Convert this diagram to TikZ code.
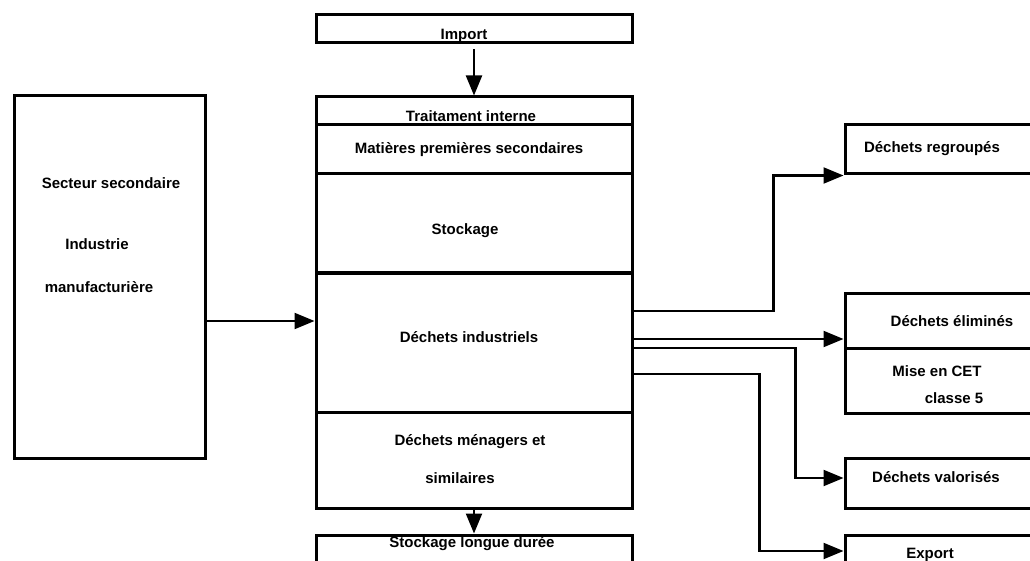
\documentclass[tikz,border=0pt]{standalone}
\usepackage{fontspec}
\setmainfont{Liberation Sans}
\usetikzlibrary{arrows.meta}

\tikzset{
	blk/.style 2 args={draw, line width=3pt, minimum width=#1, minimum height=#2, inner sep=0pt},
	txt/.style={font=\fontsize{15}{17}\selectfont\bfseries, inner sep=0pt},
	arr/.style={line width=2.2pt, -{Triangle[length=20pt,width=16pt]}}
}

\begin{document}
\begin{tikzpicture}[x=1pt,y=-1pt]
	\useasboundingbox (0,0) rectangle (1030,561);
	\clip (0,0) rectangle (1030,561);
	% boxes
	\node[blk={316pt}{28pt}] (imp) at (474,29) {};
	\node[blk={316pt}{28pt}] (trait) at (474,111) {};
	\node[blk={316pt}{49pt}] (mps) at (474,149.5) {};
	\node[blk={316pt}{99pt}] (stock) at (474,223.5) {};
	\node[blk={316pt}{139pt}] (dind) at (474,342.5) {};
	\node[blk={316pt}{96pt}] (dmen) at (474,460) {};
	\node[blk={316pt}{40pt}] (sld) at (474,555) {};
	\node[blk={191pt}{362pt}] (sect) at (109.5,277) {};
	\node[blk={200pt}{49pt}] (dreg) at (945,149.5) {};
	\node[blk={200pt}{55pt}] (delim) at (945,320.5) {};
	\node[blk={200pt}{65pt}] (dcet) at (945,380.5) {};
	\node[blk={200pt}{50pt}] (dval) at (945,483) {};
	\node[blk={200pt}{40pt}] (dexp) at (945,555) {};
	% texts
	\node[txt] (t-imp) at (464,36) {Import};
	\node[txt] (t-trait) at (471,116) {Traitament interne};
	\node[txt] (t-mps) at (469,150) {Matières premières secondaires};
	\node[txt] (t-stock) at (465,231) {Stockage};
	\node[txt] (t-dind) at (469,337) {Déchets industriels};
	\node[txt] (t-dmen) at (470,442) {Déchets ménagers et};
	\node[txt] (t-sim) at (460,478) {similaires};
	\node[txt] (t-sld) at (472,544) {Stockage longue durée};
	\node[txt] (t-sect) at (111,183) {Secteur secondaire};
	\node[txt] (t-ind) at (97,244) {Industrie};
	\node[txt] (t-manu) at (99,287) {manufacturière};
	\node[txt] (t-dreg) at (932,149) {Déchets regroupés};
	\node[txt] (t-delim) at (952,321) {Déchets éliminés};
	\node[txt] (t-cet) at (937,371) {Mise en CET};
	\node[txt] (t-cl) at (954,398) {classe 5};
	\node[txt] (t-dval) at (936,477) {Déchets valorisés};
	\node[txt] (t-dexp) at (930,555) {Export};
	% flows
	\draw[arr] ([yshift=-5pt]imp.south) -- (trait.north);
	\draw[arr] (dmen.south) -- (sld.north);
	\draw[arr] ([yshift=-44pt]sect.east) -- ([yshift=-44pt]sect.east -| dind.west);
	\draw[arr] ([yshift=31.5pt]dind.east) -- ++(140pt,0) |- (dreg.south west);
	\draw[arr] ([yshift=3.5pt]dind.east) -- ([yshift=3.5pt]dind.east -| delim.west);
	\draw[arr] ([yshift=-5.5pt]dind.east) -- ++(162pt,0) |- ([yshift=5pt]dval.west);
	\draw[arr] ([yshift=-31.5pt]dind.east) -- ++(126pt,0) |- ([yshift=4pt]dexp.west);
\end{tikzpicture}
\end{document}
